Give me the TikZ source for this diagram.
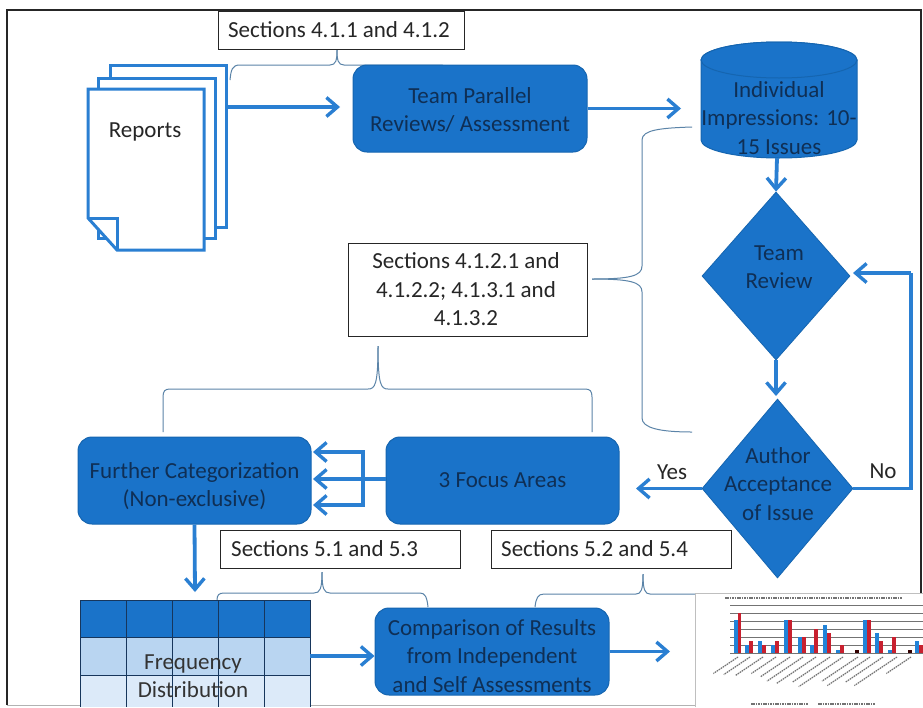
\documentclass[tikz,border=0pt]{standalone}
\usepackage{fontspec}
\setmainfont{Carlito}
\usetikzlibrary{shapes.geometric,arrows.meta}
\definecolor{bfill}{HTML}{1A73C9}
\definecolor{bedge}{HTML}{1565B0}
\definecolor{btext}{HTML}{0F2F55}
\definecolor{arr}{HTML}{2A7FD2}
\definecolor{brc}{HTML}{5B84A8}
\definecolor{rowa}{HTML}{B9D5F1}
\definecolor{rowb}{HTML}{DCEAF9}
\definecolor{grid}{HTML}{17365C}
\definecolor{cblue}{HTML}{2183D8}
\definecolor{cred}{HTML}{C8202F}
\tikzset{
  flowbox/.style={draw=bedge,line width=1pt,fill=bfill,rounded corners=14pt,text=btext,align=center,
    font=\fontsize{23}{28.5}\selectfont,inner sep=0pt,minimum width=#1,minimum height=87pt},
  flowdia/.style={draw=bedge,line width=.8pt,fill=bfill,diamond,inner sep=0pt},
  flowtext/.style={text=btext,align=center,font=\fontsize{23}{28.5}\selectfont,inner sep=0pt},
  secbox/.style={draw=black!85,line width=1pt,fill=white,minimum height=38pt},
  sectext/.style={text=black!85,align=center,font=\fontsize{23}{28.5}\selectfont,inner sep=0pt},
  plain/.style={text=black!85,font=\fontsize{23}{26}\selectfont,inner sep=0pt},
  flow/.style={draw=arr,line width=3.8pt,-{Straight Barb[length=11pt,width=19pt,line width=3.4pt]}},
  flowline/.style={draw=arr,line width=3.8pt},
  brace/.style={draw=brc,line width=1pt},
  page/.style={draw=arr,line width=3pt,fill=white,line join=miter},
  illeg/.style={draw=black!55,line width=1.2pt,dash pattern=on 1.6pt off .8pt},
}
\begin{document}
\begin{tikzpicture}[x=1pt,y=-1pt]
\useasboundingbox (0,0) rectangle (923,707);
\fill[white] (0,0) rectangle (923,707);
% frame
\draw[black!85,line width=1.6pt] (7,705) -- (7,10) -- (921,10) -- (921,705);
\draw[black!30,line width=1pt] (7,705) -- (921,705);

% braces (drawn below the shapes)
\draw[brace] (230,80) .. controls (231,70) and (232,65) .. (240,65) -- (330,65) .. controls (336,65) and (337,60) .. (337,50);
\draw[brace] (337,50) .. controls (337,60) and (338,65) .. (344,65) -- (440,65) .. controls (447,65) and (449,70) .. (450,80);
\draw[brace] (692,127) .. controls (660,128) and (642,130) .. (642,140) -- (642,266) .. controls (642,276) and (630,279) .. (592,279);
\draw[brace] (592,279) .. controls (630,279) and (642,282) .. (642,292) -- (642,418) .. controls (642,428) and (660,432) .. (692,432);
\draw[brace] (163,432) -- (163,397) .. controls (163,391) and (165,389) .. (170,389) -- (368,389) .. controls (375,389) and (378,385) .. (378,346);
\draw[brace] (378,346) .. controls (378,385) and (381,389) .. (388,389) -- (585,389) .. controls (590,389) and (592,391) .. (592,397) -- (592,432);
\draw[brace] (217,600) .. controls (217,595) and (219,593) .. (224,593) -- (314,593) .. controls (320,593) and (322,589) .. (322,572);
\draw[brace] (322,572) .. controls (322,589) and (324,593) .. (330,593) -- (420,593) .. controls (425,593) and (427,597) .. (428,607);
\draw[brace] (535,607) .. controls (536,598) and (538,594) .. (544,594) -- (636,594) .. controls (641,594) and (643,590) .. (643,574);
\draw[brace] (643,574) .. controls (643,590) and (645,594) .. (650,594) -- (700,594);

% reports
\draw[page] (110,65) rectangle (226,227);
\draw[page] (98,78) rectangle (215,238);
\draw[page] (88,89) -- (204,89) -- (204,250) -- (117,250) -- (88,218) -- cycle;
\draw[arr,line width=3pt,line join=miter] (88,218) -- (117,218) -- (117,250);
\node[plain] (reports) at (145,132) {Reports};
\coordinate (repout) at (226,107);

% boxes
\node[secbox,minimum width=246pt] (s411) at (341,30) {};
\node[sectext] (s411text) at (339,30) {Sections 4.1.1 and 4.1.2};
\node[flowbox=234pt] (team) at (470,108.5) {};
\node[flowtext] (teamtext) at (470,110) {Team Parallel\\Reviews/ Assessment};
\node[secbox,minimum width=239pt,minimum height=93pt] (s4121) at (467.5,290) {};
\node[sectext] (s4121text) at (466,289.5) {Sections 4.1.2.1 and\\4.1.2.2; 4.1.3.1 and\\4.1.3.2};
\node[flowbox=233pt] (further) at (194.5,480.5) {};
\node[flowtext] (furthertext) at (194.5,486) {Further Categorization\\(Non-exclusive)};
\node[flowbox=233pt] (focus) at (502.5,480.5) {};
\node[flowtext] (focustext) at (502.5,480) {3 Focus Areas};
\node[secbox,minimum width=240pt] (s51) at (340,549) {};
\node[sectext,anchor=west] (s51text) at (231,549) {Sections 5.1 and 5.3};
\node[secbox,minimum width=240pt] (s52) at (611,549) {};
\node[sectext,anchor=west] (s52text) at (501,549) {Sections 5.2 and 5.4};
\node[flowbox=234pt] (compare) at (492,651.5) {};
\node[flowtext] (comparetext) at (492,656) {Comparison of Results\\from Independent\\and Self Assessments};

% cylinder
\filldraw[fill=bfill,draw=bedge,line width=1pt] (701,60) arc[start angle=180,end angle=360,x radius=78,y radius=18] -- (857,140) arc[start angle=0,end angle=180,x radius=78,y radius=18] -- cycle;
\filldraw[fill=bfill,draw=bedge,line width=1pt] (779,60) ellipse[x radius=78,y radius=18];
\node[flowtext] (cyl) at (779,118) {Individual\\Impressions: 10-\\15 Issues};
\coordinate (cylout) at (777,158);

% diamonds
\node[flowdia,minimum width=148pt,minimum height=168pt] (review) at (776,276) {};
\node[flowtext] (reviewtext) at (779,267) {Team\\Review};
\node[flowdia,minimum width=151pt,minimum height=179pt] (author) at (777.5,488.5) {};
\node[flowtext] (authortext) at (778,484) {Author\\Acceptance\\of Issue};

% table
\fill[bfill] (80,600) rectangle (310,637);
\fill[rowa] (80,637) rectangle (310,675);
\fill[rowb] (80,675) rectangle (310,707);
\draw[grid,line width=1pt] (80,707) -- (80,600) -- (310,600) -- (310,707);
\foreach \xx in {126,172,218,264} \draw[grid,line width=1pt] (\xx,600) -- (\xx,707);
\draw[grid,line width=1pt] (80,637) -- (310,637);
\draw[grid,line width=.8pt] (80,675) -- (310,675);
\node[flowtext,text=black!80] (freq) at (193,676) {Frequency\\Distribution};
\coordinate (tabout) at (310,656);

% chart
\fill[white] (695,593) rectangle (923,707);
\draw[black!25,line width=.8pt] (695,707) -- (695,593) -- (923,593);
\coordinate (chartin) at (670,651.5);
\foreach \gy in {605,613,621,629,637,645,653} \draw[black!55,line width=.6pt] (730,\gy) -- (923,\gy);
\draw[illeg,line width=1.6pt] (725,598) -- (902,598);
\foreach \bx/\bh/\rh in {737.5/33/40,749/8/12,762/12/8,775/8/12,788/33/33,802/16/16,814/8/24,827/28/20,840/3/8,867/33/33,879/20/12,892/3/16,919/12/8} {
  \fill[cblue] (\bx-3.6,653-\bh) rectangle (\bx,653);
  \fill[cred] (\bx,653-\rh) rectangle (\bx+3.6,653);
}
\fill[black!80!red] (855,650) rectangle (859,653);
\fill[black!80!red] (908,650) rectangle (912,653);
\foreach \lx/\ll in {738/30,750/32,763/34,776/30,790/36,803/44,816/48,830/46,843/54,858/44,870/52,883/46,897/52,911/30} {
  \draw[illeg] (\lx,657) -- ++(-\ll*.82,\ll*.55);
}
\draw[illeg] (751,704) -- (808,704);
\draw[illeg] (818,704) -- (875,704);

% connectors
\draw[flow] (repout) -- (340,107);
\draw[flow] (team.east) -- (681,108.5);
\draw[flow] (cylout) -- (review.north);
\draw[flow] (review.south) -- (776,396);
\draw[flowline] (author.east) -- (911,488.5) -- (911,273);
\draw[flow] (911,273) -- (853,273);
\draw[flow] (author.west) -- (636,488.5);
\draw[flow] (focus.west |- 0,479) -- (313,479);
\draw[flowline] (363,450.1) -- (363,506.9);
\draw[flow] (363,452) -- (313,452);
\draw[flow] (363,505) -- (313,505);
\draw[flow] (further.south) -- (195,592);
\draw[flow] (tabout) -- (tabout -| compare.west);
\draw[flow] (compare.east) -- (chartin);

\node[plain] (yes) at (672,472) {Yes};
\node[plain] (no) at (883,471) {No};
\end{tikzpicture}
\end{document}
